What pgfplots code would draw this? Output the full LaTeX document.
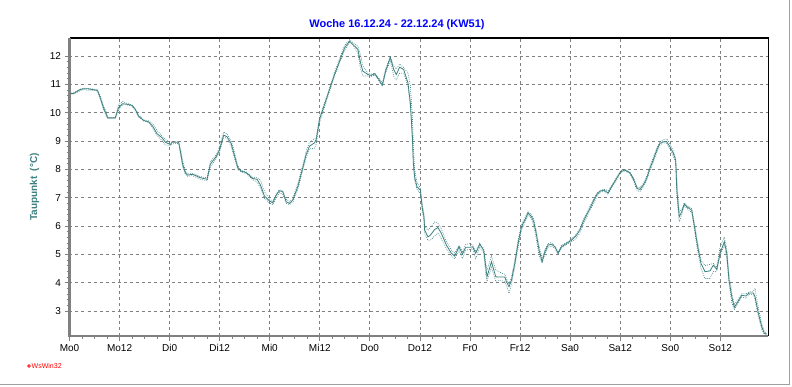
\documentclass[border=0pt]{standalone}
\usepackage{pgfplots}
\pgfplotsset{compat=1.18}
\usepackage{pgfplotstable}
\usepackage{fontspec}
\setmainfont{Liberation Sans}
\definecolor{teal1}{RGB}{60,128,128}
\definecolor{gr}{RGB}{128,128,128}
\definecolor{frm}{RGB}{160,160,160}
\pgfplotstableread{
h m hi lo
0 10.68 10.70 10.66
0.96 10.68 10.70 10.66
2.57 10.82 10.84 10.78
3.53 10.85 10.87 10.82
4.25 10.85 10.86 10.80
5.38 10.82 10.85 10.80
6.72 10.79 10.80 10.76
7.37 10.53 10.60 10.48
8.16 10.18 10.25 10.10
8.98 9.88 9.95 9.84
9.22 9.82 9.84 9.80
10.97 9.82 9.84 9.80
11.76 10.18 10.28 10.08
12.72 10.32 10.40 10.28
13.78 10.30 10.33 10.28
14.98 10.26 10.28 10.24
15.77 10.12 10.15 10.08
16.56 9.88 9.92 9.85
17.76 9.73 9.75 9.71
18.96 9.68 9.72 9.66
19.92 9.53 9.62 9.48
20.98 9.26 9.38 9.20
22.18 9.12 9.18 9.02
22.97 8.96 9.05 8.86
24.17 8.88 8.96 8.85
24.58 8.96 8.98 8.90
26.16 8.96 8.98 8.92
26.57 8.65 8.75 8.55
27.12 8.18 8.30 8.08
27.77 7.88 7.95 7.82
28.32 7.80 7.84 7.76
29.52 7.83 7.86 7.78
31.13 7.72 7.76 7.66
32.98 7.65 7.70 7.60
33.77 8.19 8.28 8.10
35.14 8.45 8.52 8.38
35.93 8.68 8.78 8.58
36.96 9.21 9.32 9.15
37.78 9.15 9.25 9.08
38.74 8.92 9.02 8.82
39.53 8.50 8.62 8.40
40.32 8.07 8.15 8.00
41.14 7.94 7.97 7.90
42.34 7.89 7.91 7.86
43.92 7.68 7.72 7.64
44.98 7.65 7.72 7.55
45.77 7.45 7.62 7.35
46.73 7.06 7.22 6.98
47.93 6.89 6.95 6.82
48.72 6.82 6.88 6.76
49.54 7.09 7.15 7.00
50.33 7.25 7.28 7.18
51.12 7.21 7.24 7.12
51.94 6.86 6.95 6.80
52.73 6.80 6.85 6.76
53.52 6.92 6.98 6.84
54.72 7.39 7.50 7.30
55.54 7.85 7.95 7.75
55.92 8.06 8.15 7.98
56.74 8.53 8.65 8.42
57.53 8.82 8.95 8.72
58.73 8.94 9.08 8.75
59.14 9.06 9.10 8.90
59.93 9.77 9.85 9.65
61.13 10.29 10.35 10.20
62.33 10.82 10.88 10.75
63.53 11.35 11.42 11.30
64.73 11.82 11.92 11.76
65.93 12.29 12.38 12.20
67.13 12.53 12.58 12.48
67.92 12.41 12.48 12.40
69.12 12.24 12.35 12.10
69.77 11.76 12.05 11.55
70.32 11.47 11.65 11.30
71.52 11.35 11.40 11.30
72.34 11.32 11.36 11.28
73.13 11.38 11.40 11.34
74.16 11.18 11.22 11.12
74.98 10.97 11.05 10.95
75.77 11.47 11.55 11.40
76.90 11.96 11.98 11.85
77.69 11.53 11.65 11.30
78.34 11.35 11.55 11.15
79.13 11.61 11.72 11.40
80.09 11.53 11.60 11.40
81.12 11.06 11.40 10.95
81.70 10.35 10.95 10.20
82.18 9.18 9.90 9.00
82.42 8.23 8.80 8.10
82.73 7.74 8.00 7.60
83.28 7.39 7.55 7.30
84.10 7.27 7.35 7.15
84.58 6.62 6.75 6.50
84.96 6.33 6.45 6.20
85.13 5.86 6.00 5.75
85.92 5.62 5.85 5.50
86.50 5.68 5.95 5.50
87.53 5.88 6.15 5.65
88.32 5.95 6.10 5.75
89.14 5.74 5.90 5.55
90.34 5.33 5.45 5.20
91.54 5.04 5.15 4.95
92.33 4.94 5.05 4.85
93.36 5.27 5.32 5.15
94.18 5.01 5.10 4.85
94.97 5.25 5.35 5.15
95.93 5.25 5.38 5.18
96.65 5.27 5.35 5.20
97.37 5.04 5.10 4.85
98.33 5.36 5.40 5.25
99.29 5.15 5.20 5.05
99.77 4.56 4.70 4.30
100.08 4.21 4.45 4.05
101.14 4.74 4.95 4.55
102.17 4.21 4.45 4.05
102.96 4.20 4.38 4.08
104.33 4.20 4.30 4.05
104.74 4.03 4.15 3.90
105.36 3.86 3.95 3.62
105.94 4.09 4.20 3.95
106.73 4.68 4.80 4.55
107.52 5.39 5.50 5.25
108.34 5.97 6.05 5.85
109.13 6.21 6.28 6.12
109.92 6.47 6.52 6.40
110.74 6.33 6.40 6.25
111.29 6.15 6.25 6.00
111.94 5.68 5.80 5.50
112.56 5.15 5.30 4.95
113.28 4.74 4.85 4.70
113.93 5.09 5.15 5.00
114.72 5.33 5.38 5.25
115.54 5.36 5.42 5.30
116.33 5.27 5.30 5.22
117.12 5.04 5.08 5.00
117.94 5.27 5.32 5.22
119.14 5.39 5.42 5.35
120.34 5.50 5.55 5.45
121.54 5.68 5.72 5.58
122.33 5.86 5.92 5.75
123.12 6.15 6.22 6.05
124.32 6.50 6.58 6.42
125.52 6.86 6.92 6.78
126.34 7.09 7.15 7.02
127.13 7.23 7.26 7.20
128.09 7.27 7.30 7.22
129.12 7.17 7.25 7.12
129.94 7.39 7.42 7.35
131.14 7.68 7.72 7.62
132.10 7.92 7.95 7.88
133.13 7.98 8.00 7.95
134.33 7.88 7.90 7.85
135.12 7.68 7.72 7.62
136.08 7.33 7.38 7.25
136.73 7.29 7.35 7.22
137.52 7.45 7.50 7.38
138.34 7.68 7.75 7.60
139.13 8.04 8.12 7.96
139.92 8.33 8.42 8.25
140.74 8.68 8.75 8.60
141.53 8.92 8.98 8.86
142.32 8.98 9.05 8.95
143.14 8.98 9.08 8.92
143.93 8.80 8.90 8.72
144.72 8.57 8.65 8.45
145.30 8.33 8.40 8.25
145.54 7.39 7.80 7.20
145.78 6.92 7.20 6.70
146.16 6.33 6.50 6.15
146.74 6.50 6.58 6.40
147.36 6.78 6.82 6.72
148.18 6.66 6.70 6.60
149.14 6.56 6.62 6.48
149.93 5.86 6.00 5.75
150.58 5.27 5.40 5.10
151.37 4.68 4.80 4.50
152.33 4.39 4.60 4.15
153.53 4.42 4.65 4.15
154.32 4.62 4.68 4.40
155.14 4.47 4.55 4.40
155.93 5.04 5.25 4.95
156.96 5.45 5.62 5.35
157.54 5.04 5.20 4.85
158.09 4.09 4.30 3.95
158.74 3.50 3.65 3.30
159.36 3.13 3.22 3.05
160.18 3.33 3.40 3.25
161.14 3.56 3.62 3.50
162.10 3.53 3.60 3.45
162.89 3.64 3.68 3.58
163.92 3.64 3.70 3.58
164.33 3.50 3.80 3.40
165.12 2.92 3.10 2.80
165.94 2.44 2.55 2.35
166.56 2.21 2.28 2.18
167.14 2.19 2.22 2.17
}\data
\begin{document}
\begin{tikzpicture}[x=1pt,y=1pt]
\useasboundingbox (0,0) rectangle (792,387);
\draw[frm, line width=1pt] (789.5,387) -- (789.5,2.5) -- (0,2.5);
\begin{axis}[name=ax, at={(69.5pt,51pt)}, anchor=south west,
  scale only axis, width=698.8pt, height=298pt,
  xmin=0, xmax=167.5, ymin=2.12, ymax=12.64,
  xtick={0,12,...,156},
  xticklabels={Mo0,Mo12,Di0,Di12,Mi0,Mi12,Do0,Do12,Fr0,Fr12,Sa0,Sa12,So0,So12},
  minor x tick num=3,
  ytick={3,4,...,12}, minor y tick num=4,
  grid=major,
  major grid style={gr, dash pattern=on 3pt off 3pt, line width=0.8pt},
  axis line style={draw=none},
  tick align=outside, xtick pos=bottom, ytick pos=left,
  major tick length=5pt, minor tick length=3pt,
  tick style={gr, line width=0.8pt},
  ticklabel style={font=\fontsize{10}{12}\selectfont},
  /pgf/number format/assume math mode=true,
  ylabel={Taupunkt\ \ (°C)},
  ylabel style={at={(axis description cs:-0.05,0.5)}, anchor=center, font=\bfseries\fontsize{10}{12}\selectfont, text=teal1},
]
\addplot[teal1, line width=0.6pt, dash pattern=on 0.8pt off 1.2pt] table[x=h,y=hi]{\data};
\addplot[teal1, line width=0.6pt, dash pattern=on 0.8pt off 1.2pt] table[x=h,y=lo]{\data};
\addplot[teal1, line width=0.8pt] table[x=h,y=m]{\data};
\end{axis}
\draw[black, line width=1.2pt] (ax.north west) -- (ax.north east) -- (ax.south east);
\draw[gr, line width=2.5pt] (ax.north west) -- (ax.south west) -- (ax.south east);
\node[font=\bfseries\fontsize{11}{13}\selectfont, text=blue] at (397,362) {Woche 16.12.24 - 22.12.24 (KW51)};
\fill[red] (29,21) circle (1.8);
\fill[white] (29,21) circle (0.7);
\node[anchor=west, inner sep=0pt, font=\fontsize{7}{8}\selectfont, text=red] at (31.5,21) {WsWin32};
\end{tikzpicture}
\end{document}
